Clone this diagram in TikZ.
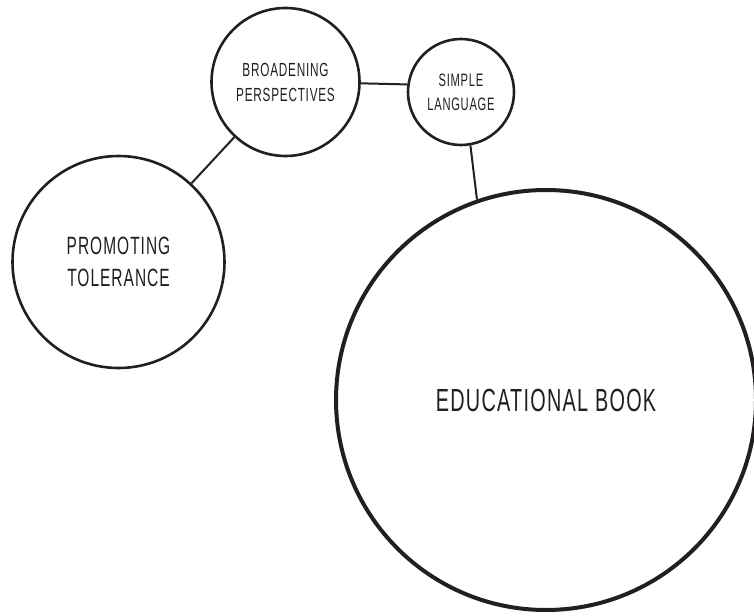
\documentclass[tikz,border=0pt]{standalone}
\usepackage{fontspec}
\setmainfont{Liberation Sans}[FakeStretch=0.62,LetterSpace=4]
\usetikzlibrary{positioning}
\definecolor{ink}{HTML}{231F20}

\begin{document}
\begin{tikzpicture}[x=1pt,y=-1pt,
      bubble/.style={draw=ink,circle,line width=2.6pt,inner sep=0pt,
                     align=center,text=ink},
      big/.style={bubble,line width=4pt},
      link/.style={draw=ink,line width=2pt}]
    \useasboundingbox (0,0) rectangle (754,615);
    \node[big,minimum size=420pt,font={\fontsize{32}{36}\selectfont}]
      (edu) at (546,400) {EDUCATIONAL BOOK};
    \node[bubble,minimum size=212pt,font={\fontsize{25}{32}\selectfont}]
      (prom) at (118.5,262) {PROMOTING\\TOLERANCE};
    \node[bubble,minimum size=148pt,font={\fontsize{19}{25}\selectfont}]
      (brd) at (285.5,82) {BROADENING\\PERSPECTIVES};
    \node[bubble,minimum size=106pt,font={\fontsize{18}{24}\selectfont}]
      (simple) at (461,92) {SIMPLE\\LANGUAGE};
    \draw[link] (prom)--(brd);
    \draw[link] (brd.-1)--(simple.172);
    \draw[link] (simple.-80)--(edu.109);
  \end{tikzpicture}
\end{document}
